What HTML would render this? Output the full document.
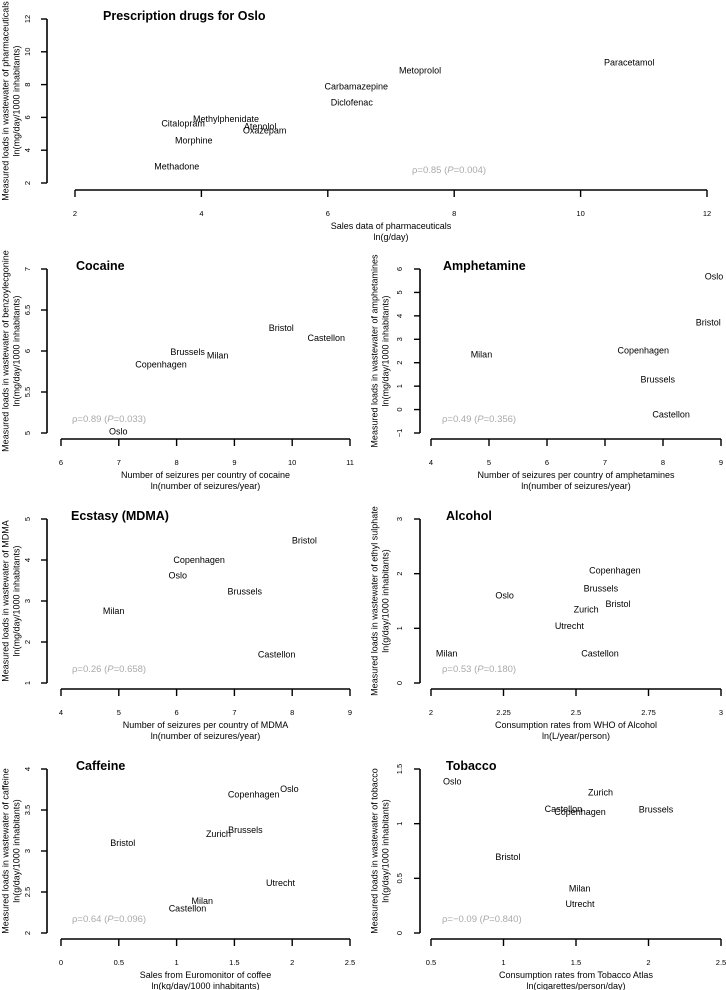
<!DOCTYPE html>
<html><head><meta charset="utf-8"><style>
html,body{margin:0;padding:0;background:#fff;}
svg{display:block;font-family:"Liberation Sans",sans-serif;}
</style></head><body>
<svg id="chart" width="726" height="990" viewBox="0 0 726 990" xmlns="http://www.w3.org/2000/svg"></svg>
<script>
// ---- data ----
const rxLabels=["Paracetamol","Metoprolol","Carbamazepine","Diclofenac","Methylphenidate","Citalopram","Atenolol","Oxazepam","Morphine","Methadone"];
const rxX=[10.77,7.46,6.45,6.38,4.39,3.71,4.93,5.0,3.88,3.61];
const rxY=[9.32,8.83,7.85,6.88,5.85,5.6,5.41,5.17,4.56,2.96];
const rxXTicks=[2,4,6,8,10,12];
const rxYTicks=[2,4,6,8,10,12];

const cocLabels=["Bristol","Castellon","Brussels","Milan","Copenhagen","Oslo"];
const cocX=[9.81,10.59,8.19,8.71,7.73,6.99];
const cocY=[6.27,6.15,5.98,5.94,5.83,5.01];
const cocXTicks=[6,7,8,9,10,11];
const cocYTicks=[5,5.5,6,6.5,7];

const ampLabels=["Oslo","Bristol","Copenhagen","Milan","Brussels","Castellon"];
const ampX=[8.88,8.78,7.66,4.87,7.91,8.14];
const ampY=[5.66,3.70,2.50,2.33,1.26,-0.23];
const ampXTicks=[4,5,6,7,8,9];
const ampYTicks=[-1,0,1,2,3,4,5,6];

const mdmaLabels=["Bristol","Copenhagen","Oslo","Brussels","Milan","Castellon"];
const mdmaX=[8.21,6.39,6.02,7.18,4.91,7.73];
const mdmaY=[4.46,3.98,3.61,3.22,2.74,1.68];
const mdmaXTicks=[4,5,6,7,8,9];
const mdmaYTicks=[1,2,3,4,5];

const alcLabels=["Copenhagen","Brussels","Oslo","Bristol","Zurich","Utrecht","Milan","Castellon"];
const alcX=[2.634,2.586,2.254,2.645,2.535,2.477,2.054,2.583];
const alcY=[2.05,1.72,1.59,1.43,1.33,1.03,0.53,0.53];
const alcXTicks=[2,2.25,2.5,2.75,3];
const alcYTicks=[0,1,2,3];

const cafLabels=["Oslo","Copenhagen","Brussels","Zurich","Bristol","Utrecht","Milan","Castellon"];
const cafX=[1.976,1.667,1.595,1.362,0.534,1.899,1.222,1.094];
const cafY=[3.75,3.68,3.25,3.20,3.09,2.60,2.38,2.29];
const cafXTicks=[0,0.5,1,1.5,2,2.5];
const cafYTicks=[2,2.5,3,3.5,4];

const tobLabels=["Oslo","Zurich","Brussels","Castellon","Copenhagen","Bristol","Milan","Utrecht"];
const tobX=[0.647,1.669,2.052,1.413,1.528,1.030,1.525,1.528];
const tobY=[1.38,1.28,1.125,1.128,1.10,0.69,0.40,0.26];
const tobXTicks=[0.5,1,1.5,2,2.5];
const tobYTicks=[0,0.5,1,1.5];

const rhoTexts=["0.85","0.89","0.49","0.26","0.53","0.64","\u22120.09"];
const pTexts=["0.004","0.033","0.356","0.658","0.180","0.096","0.840"];

// ---- layout ----
const panels=[
 {key:"prescription",title:"Prescription drugs for Oslo",labels:rxLabels,xs:rxX,ys:rxY,xt:rxXTicks,yt:rxYTicks,
  yA:"Measured loads in wastewater of pharmaceuticals",yB:"ln(mg/day/1000 inhabitants)",xA:"Sales data of pharmaceuticals",xB:"ln(g/day)",
  ax:47,left:75,right:707,top:19,bottom:183,xaxisY:190,titleX:103,titleY:20,rhoX:412,rhoY:170,ytx:30,yt1:6,yt2:17},
 {key:"cocaine",title:"Cocaine",labels:cocLabels,xs:cocX,ys:cocY,xt:cocXTicks,yt:cocYTicks,
  yA:"Measured loads in wastewater of benzoylecgonine",yB:"ln(mg/day/1000 inhabitants)",xA:"Number of seizures per country of cocaine",xB:"ln(number of seizures/year)",
  ax:47,left:61,right:350,top:269,bottom:433,xaxisY:439,titleX:76,titleY:270,rhoX:72,rhoY:419,ytx:30,yt1:6,yt2:17},
 {key:"amphetamine",title:"Amphetamine",labels:ampLabels,xs:ampX,ys:ampY,xt:ampXTicks,yt:ampYTicks,
  yA:"Measured loads in wastewater of amphetamines",yB:"ln(mg/day/1000 inhabitants)",xA:"Number of seizures per country of amphetamines",xB:"ln(number of seizures/year)",
  ax:420,left:431,right:721,top:269,bottom:433,xaxisY:439,titleX:443,titleY:270,rhoX:442,rhoY:419,ytx:402,yt1:375,yt2:386},
 {key:"ecstasy",title:"Ecstasy (MDMA)",labels:mdmaLabels,xs:mdmaX,ys:mdmaY,xt:mdmaXTicks,yt:mdmaYTicks,
  yA:"Measured loads in wastewater of MDMA",yB:"ln(mg/day/1000 inhabitants)",xA:"Number of seizures per country of MDMA",xB:"ln(number of seizures/year)",
  ax:47,left:61,right:350,top:519,bottom:683,xaxisY:689,titleX:71,titleY:520,rhoX:72,rhoY:669,ytx:30,yt1:6,yt2:17},
 {key:"alcohol",title:"Alcohol",labels:alcLabels,xs:alcX,ys:alcY,xt:alcXTicks,yt:alcYTicks,
  yA:"Measured loads in wastewater of ethyl sulphate",yB:"ln(g/day/1000 inhabitants)",xA:"Consumption rates from WHO of Alcohol",xB:"ln(L/year/person)",
  ax:420,left:431,right:721,top:519,bottom:683,xaxisY:689,titleX:446,titleY:520,rhoX:442,rhoY:669,ytx:402,yt1:375,yt2:386},
 {key:"caffeine",title:"Caffeine",labels:cafLabels,xs:cafX,ys:cafY,xt:cafXTicks,yt:cafYTicks,
  yA:"Measured loads in wastewater of caffeine",yB:"ln(g/day/1000 inhabitants)",xA:"Sales from Euromonitor of coffee",xB:"ln(kg/day/1000 inhabitants)",
  ax:47,left:61,right:350,top:769,bottom:933,xaxisY:939,titleX:76,titleY:770,rhoX:72,rhoY:919,ytx:30,yt1:6,yt2:17},
 {key:"tobacco",title:"Tobacco",labels:tobLabels,xs:tobX,ys:tobY,xt:tobXTicks,yt:tobYTicks,
  yA:"Measured loads in wastewater of tobacco",yB:"ln(g/day/1000 inhabitants)",xA:"Consumption rates from Tobacco Atlas",xB:"ln(cigarettes/person/day)",
  ax:420,left:431,right:721,top:769,bottom:933,xaxisY:939,titleX:446,titleY:770,rhoX:442,rhoY:919,ytx:402,yt1:375,yt2:386}
];

const NS="http://www.w3.org/2000/svg";
const svg=document.getElementById("chart");
function mk(tag,attrs,parent,text){const e=document.createElementNS(NS,tag);for(const k in attrs)e.setAttribute(k,attrs[k]);if(text!==undefined)e.textContent=text;parent.appendChild(e);return e;}

panels.forEach((p,i)=>{
  const g=mk("g",{},svg);
  
  
  const x0=p.xt[0],x1=p.xt[p.xt.length-1],y0=p.yt[0],y1=p.yt[p.yt.length-1];
  const sx=v=>p.left+(v-x0)/(x1-x0)*(p.right-p.left);
  const sy=v=>p.bottom-(v-y0)/(y1-y0)*(p.bottom-p.top);
  // y axis
  const ya=mk("line",{x1:p.ax,x2:p.ax,y1:p.top,y2:p.bottom,stroke:"#000","stroke-width":1.6},g);
  
  
  p.yt.forEach(v=>{
    const y=sy(v);
    mk("line",{x1:p.ax-6,x2:p.ax,y1:y,y2:y,stroke:"#000","stroke-width":1.4},g);
    const t=mk("text",{x:p.ytx,y:y,"font-size":7.5,"text-anchor":"middle",transform:`rotate(-90 ${p.ytx} ${y})`,fill:"#000"},g,String(v).replace("-","\u2212"));
    
    
  });
  // x axis
  const xa=mk("line",{x1:p.left,x2:p.right,y1:p.xaxisY,y2:p.xaxisY,stroke:"#000","stroke-width":1.6},g);
  
  
  p.xt.forEach(v=>{
    const x=sx(v);
    mk("line",{x1:x,x2:x,y1:p.xaxisY,y2:p.xaxisY+7,stroke:"#000","stroke-width":1.4},g);
    const t=mk("text",{x:x,y:p.xaxisY+26,"font-size":7.5,"text-anchor":"middle",fill:"#000"},g,String(v));
    
    
  });
  // axis titles
  const cy=(p.top+p.bottom)/2, cx=(p.left+p.right)/2;
  const yt1=mk("text",{x:p.yt1,y:cy,"font-size":9,"text-anchor":"middle",transform:`rotate(-90 ${p.yt1} ${cy})`,"dominant-baseline":"middle"},g,p.yA);
  
  
  const yt2=mk("text",{x:p.yt2,y:cy,"font-size":9,"text-anchor":"middle",transform:`rotate(-90 ${p.yt2} ${cy})`,"dominant-baseline":"middle"},g,p.yB);
  
  
  const xt1=mk("text",{x:cx,y:p.xaxisY+39,"font-size":9,"text-anchor":"middle"},g,p.xA);
  
  
  const xt2=mk("text",{x:cx,y:p.xaxisY+50,"font-size":9,"text-anchor":"middle"},g,p.xB);
  
  
  // title
  const tt=mk("text",{x:p.titleX,y:p.titleY,"font-size":12.5,"font-weight":"bold"},g,p.title);
  
  
  // points (labels)
  p.labels.forEach((lab,j)=>{
    const t=mk("text",{x:sx(p.xs[j]),y:sy(p.ys[j]),"font-size":9,"text-anchor":"middle","dominant-baseline":"middle",fill:"#000"},g,lab);
    
    
  });
  // rho
  const r=mk("text",{x:p.rhoX,y:p.rhoY,"font-size":9.5,fill:"#aaa","dominant-baseline":"middle"},g);
  
  
  mk("tspan",{},r,"\u03c1="+rhoTexts[i]+" (");
  mk("tspan",{"font-style":"italic"},r,"P");
  mk("tspan",{},r,"="+pTexts[i]+")");
});
</script>
</body></html>
